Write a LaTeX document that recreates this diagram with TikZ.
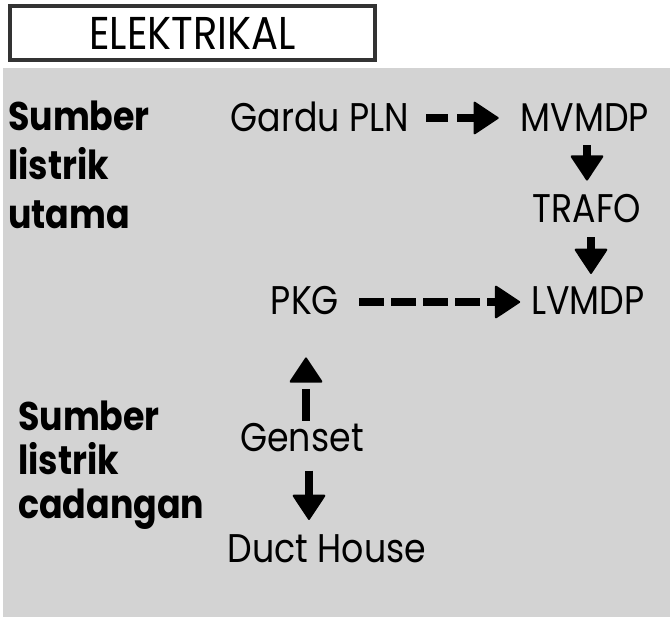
\documentclass[tikz,border=0pt]{standalone}
\usepackage{fontspec}
\setmainfont{Poppins}[FakeStretch=0.87]
\usetikzlibrary{arrows.meta}
\definecolor{PanelGray}{HTML}{D3D3D3}
\definecolor{FrameGray}{HTML}{333333}

\begin{document}
\begin{tikzpicture}[x=1pt, y=-1pt,
    lbl/.style={inner sep=0pt, anchor=base, font=\fontsize{40}{48}\selectfont},
    grp/.style={inner sep=0pt, anchor=north west, align=left, font=\fontsize{40}{49}\selectfont\bfseries},
    titlebox/.style={draw=FrameGray, line width=4pt, fill=white, minimum width=365pt, minimum height=54pt, inner sep=0pt, font=\fontsize{46}{50}\selectfont},
    arrow/.style={-{Triangle[width=34pt, length=26pt, line width=2pt, round]}, line width=8pt, color=black}
  ]
    \useasboundingbox (0,0) rectangle (670,617);
    \fill[PanelGray] (3,68) rectangle (670,617);
    \node[titlebox] (title) at (192.5,33) {ELEKTRIKAL};

    \node[grp] (utama) at (8,101) {Sumber\\listrik\\utama};
    \node[grp, font=\fontsize{40}{44}\selectfont\bfseries] (cadangan) at (18,401) {Sumber\\listrik\\cadangan};

    \node[lbl] (gardu) at (320,132) {Gardu PLN};
    \node[lbl] (mvmdp) at (585,132) {MVMDP};
    \node[lbl] (trafo) at (587,223) {TRAFO};
    \node[lbl] (lvmdp) at (588,315) {LVMDP};
    \node[lbl] (pkg) at (305,315) {PKG};
    \node[lbl] (genset) at (302,452) {Genset};
    \node[lbl] (duct) at (327,563) {Duct House};

    \draw[arrow, dash pattern=on 22pt off 9pt, shorten <=17pt, shorten >=22pt] ([yshift=14pt]gardu.base east) -- ([yshift=14pt]mvmdp.base west);
    \draw[arrow, shorten <=13pt, shorten >=14pt] (trafo.north |- mvmdp.south) -- (trafo.north);
    \draw[arrow, shorten <=14pt, shorten >=13pt] ([xshift=3pt]lvmdp.north |- trafo.south) -- ([xshift=3pt]lvmdp.north);
    \draw[arrow, dash pattern=on 25pt off 7pt, shorten <=20pt, shorten >=11pt] ([yshift=13pt]pkg.base east) -- ([yshift=13pt]lvmdp.base west);
    \draw[arrow, dash pattern=on 32pt off 20pt, shorten <=3pt, shorten >=42pt] ([xshift=4pt]genset.north) -- ([xshift=4pt]genset.north |- pkg.south);
    \draw[arrow, dash pattern=on 25pt off 10pt, shorten <=18pt, shorten >=15pt] ([xshift=7pt]genset.south) -- ([xshift=7pt]genset.south |- duct.north);
  \end{tikzpicture}
\end{document}
